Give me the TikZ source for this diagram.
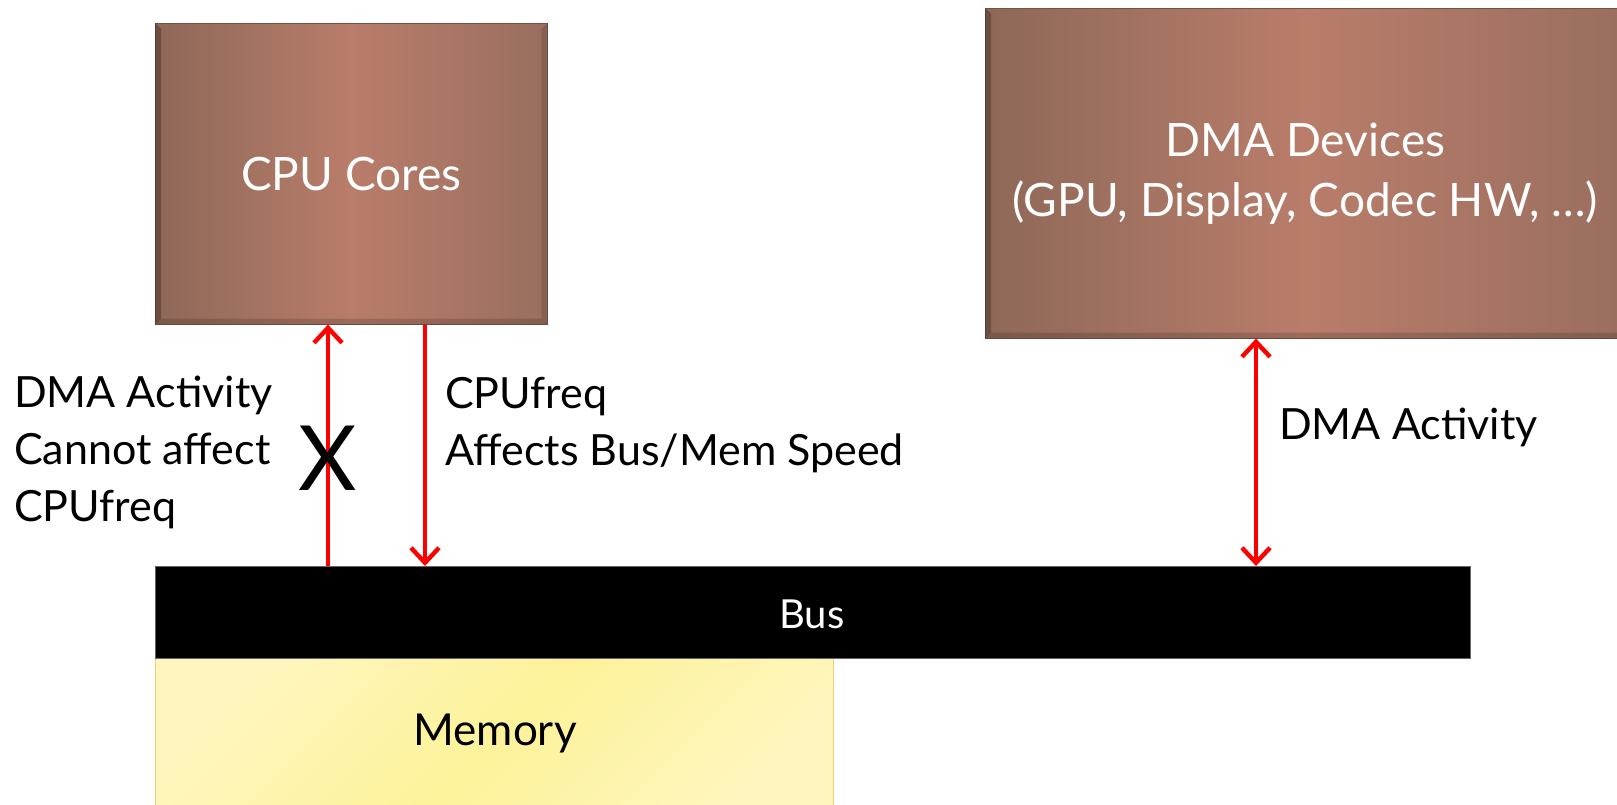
\documentclass[tikz,border=0pt]{standalone}
\usepackage{fontspec}
\setmainfont{Lato}
\usetikzlibrary{arrows.meta,calc}
\definecolor{brownL}{HTML}{8E6858}
\definecolor{brownM}{HTML}{B97D6A}
\definecolor{brownR}{HTML}{9A6E5F}
\definecolor{memY}{HTML}{FDF29A}
\definecolor{memL}{HTML}{FEF6BE}
\definecolor{memB}{HTML}{F0D070}
\definecolor{arrred}{HTML}{FF0000}
\tikzset{
  brownbox/.style={draw=brownL!80!black, line width=0.6pt, left color=brownL, right color=brownR, middle color=brownM, text=white, font=\fontsize{46}{60}\selectfont, align=center, inner sep=0pt, anchor=north west},
  bevel/.style={fill=black, opacity=0.25},
  busbox/.style={fill=black, draw=black!60, line width=0.6pt, inner sep=0pt, anchor=north west},
  membox/.style={draw=memB, line width=1.2pt, left color=memL, right color=memL, middle color=memY, shading angle=45, inner sep=0pt, anchor=north west},
  redarrow/.style={draw=arrred, line width=4pt},
  barb/.tip={Straight Barb[length=15pt,width=28pt,line width=4.4pt]},
  lbl/.style={font=\fontsize{43}{57}\selectfont, align=left, inner sep=0pt, anchor=west, text=black},
}
\begin{document}
\begin{tikzpicture}[x=1pt,y=-1pt]
\path[use as bounding box] (0,0) rectangle (1617,805);
% boxes
\node[brownbox, minimum width=392pt, minimum height=301pt] (cpu) at (155,23) {CPU Cores};
\node[brownbox, minimum width=640pt, minimum height=330pt] (dma) at (985,8) {DMA Devices\\(GPU, Display, Codec HW, \dots)};
% bevels
\fill[bevel] (cpu.north west) -- ++(6,6) -- ($(cpu.south west)+(6,-6)$) -- (cpu.south west) -- cycle;
\fill[bevel, opacity=0.15] (cpu.south west) -- ++(6,-6) -- ($(cpu.south east)+(-6,-6)$) -- (cpu.south east) -- cycle;
\fill[bevel, opacity=0.12] (cpu.north east) -- ++(-6,6) -- ($(cpu.south east)+(-6,-6)$) -- (cpu.south east) -- cycle;
\fill[bevel] (dma.north west) -- ++(6,6) -- ($(dma.south west)+(6,-6)$) -- (dma.south west) -- cycle;
\fill[bevel, opacity=0.15] (dma.south west) -- ++(6,-6) -- ($(dma.south east)+(-6,-6)$) -- (dma.south east) -- cycle;
\node[membox, minimum width=678pt, minimum height=170pt] (mem) at (155,656) {};
\node[font=\fontsize{44}{50}\selectfont] (memtxt) at (495,734) {Memory};
\node[busbox, minimum width=1315pt, minimum height=92pt] (bus) at (155,566) {};
\node[text=white, font=\fontsize{40}{48}\selectfont] (bustxt) at (812,614) {Bus};
% arrow positions
\coordinate (a1) at (328,0);
\coordinate (a2) at (425,0);
\coordinate (a3) at (1256,0);
\draw[redarrow, -{barb}] (bus.north -| a1) -- (cpu.south -| a1);
\draw[redarrow, -{barb}] (cpu.south -| a2) -- (bus.north -| a2);
\draw[redarrow, {barb}-{barb}] (bus.north -| a3) -- (dma.south -| a3);
% labels
\node[lbl] (l1) at (14,452) {DMA Activity\\Cannot affect\\CPUfreq};
\node[font=\fontsize{90}{94}\selectfont, inner sep=0pt] (xmark) at (328,458) {X};
\node[lbl] (l2) at (445,425) {CPUfreq\\Affects Bus/Mem Speed};
\node[lbl] (l3) at (1279,427) {DMA Activity};
\end{tikzpicture}
\end{document}
